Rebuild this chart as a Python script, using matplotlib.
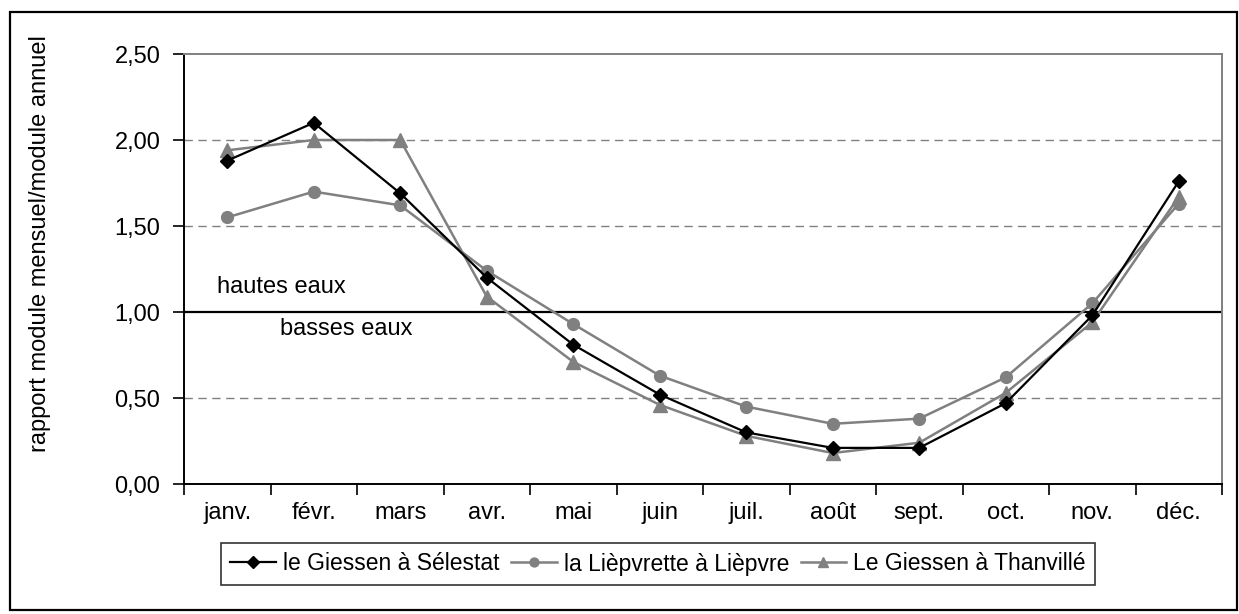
import matplotlib
matplotlib.use('Agg')
import matplotlib.pyplot as plt
from matplotlib.patches import Rectangle
from matplotlib.ticker import FixedLocator, FuncFormatter

plt.rcParams['font.family'] = ['Liberation Sans', 'DejaVu Sans']

mois = ['janv.', 'févr.', 'mars', 'avr.', 'mai', 'juin',
        'juil.', 'août', 'sept.', 'oct.', 'nov.', 'déc.']
selestat = [1.88, 2.10, 1.69, 1.20, 0.81, 0.52, 0.30, 0.21, 0.21, 0.47, 0.98, 1.76]
liepvre = [1.55, 1.70, 1.62, 1.24, 0.93, 0.63, 0.45, 0.35, 0.38, 0.62, 1.05, 1.63]
thanville = [1.94, 2.00, 2.00, 1.09, 0.71, 0.46, 0.28, 0.18, 0.24, 0.53, 0.94, 1.67]
noms = ['le Giessen à Sélestat', 'la Lièpvrette à Lièpvre', 'Le Giessen à Thanvillé']

W, H = 1239, 614
fig = plt.figure(figsize=(W / 100, H / 100), dpi=100)
ax = fig.add_axes([184 / W, 1 - 484 / H, (1222 - 184) / W, (484 - 54) / H])

# cadre extérieur
fig.patches.append(Rectangle((10 / W, 4 / H), 1227 / W, 598 / H, transform=fig.transFigure,
                             fill=False, edgecolor='black', linewidth=1.6))

x = list(range(len(mois)))
gris = '#808080'
ax.plot(x, selestat, color='black', lw=1.6, marker='D', ms=7.5, zorder=5, label=noms[0])
ax.plot(x, liepvre, color=gris, lw=1.8, marker='o', ms=8.5, zorder=4, label=noms[1])
ax.plot(x, thanville, color=gris, lw=1.8, marker='^', ms=10, zorder=4, label=noms[2])

ax.set_xlim(-0.5, len(mois) - 0.5)
ax.set_ylim(0, 2.5)

for v in [0.5, 1.5, 2.0]:
    ax.axhline(v, color=gris, lw=1, ls=(0, (6, 4)), zorder=1)
ax.axhline(1.0, color='black', lw=1.6, zorder=2)

ax.set_yticks([0, 0.5, 1.0, 1.5, 2.0, 2.5])
ax.yaxis.set_major_formatter(FuncFormatter(lambda v, p: f'{v:.2f}'.replace('.', ',')))
ax.set_xticks(x)
ax.set_xticklabels(mois)
ax.xaxis.set_minor_locator(FixedLocator([i - 0.5 for i in range(len(mois) + 1)]))
ax.tick_params(axis='x', which='major', length=0, pad=13, labelsize=17)
ax.tick_params(axis='x', which='minor', length=8, width=1.2, direction='out')
ax.tick_params(axis='y', length=8, width=1.2, direction='out', pad=9, labelsize=17)

ax.spines['left'].set_linewidth(1.4)
ax.spines['bottom'].set_linewidth(1.4)
ax.spines['top'].set_color(gris)
ax.spines['right'].set_color(gris)
ax.spines['top'].set_linewidth(1.4)
ax.spines['right'].set_linewidth(1.4)

ax.set_ylabel('rapport module mensuel/module annuel', fontsize=17)
ax.yaxis.set_label_coords(-0.128, 0.56)

ax.text(-0.12, 1.145, 'hautes eaux', fontsize=17, va='center', ha='left')
ax.text(0.61, 0.90, 'basses eaux', fontsize=17, va='center', ha='left')

handles, labels = ax.get_legend_handles_labels()
leg = fig.legend(handles, labels, loc='center', bbox_to_anchor=(658 / W, 1 - 564 / H),
                 ncol=3, fontsize=16.5, frameon=True, fancybox=False, edgecolor='black',
                 handlelength=2.0, handletextpad=0.3, columnspacing=0.5, borderpad=0.4,
                 markerscale=0.75)
leg.get_frame().set_linewidth(1.2)

fig.savefig('out.png', dpi=100)
